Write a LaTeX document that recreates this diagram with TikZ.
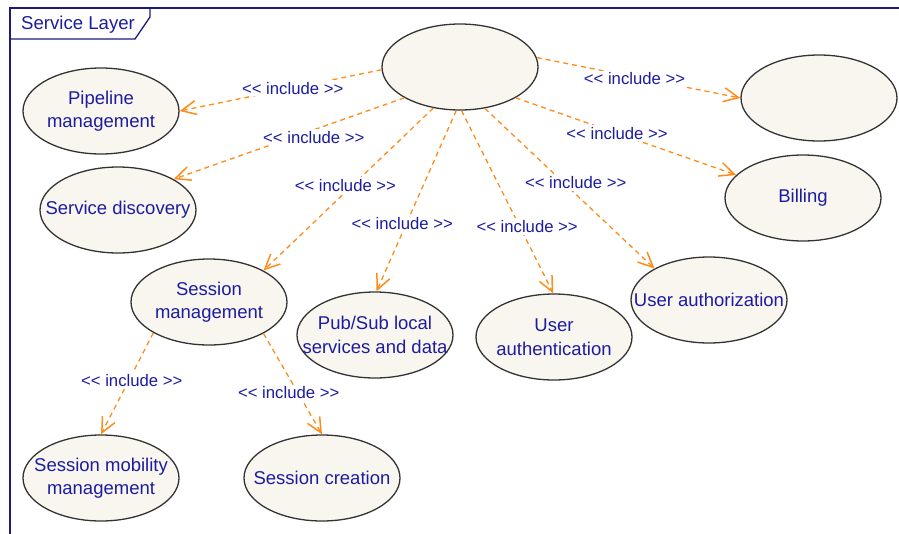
\documentclass[tikz,border=0pt]{standalone}
\usepackage{fontspec}
\setmainfont{Liberation Sans}
\usetikzlibrary{
    arrows.meta,
    shapes.geometric, % for the ellipse nodes
    positioning
}
\definecolor{framenavy}{RGB}{26,26,128}
\definecolor{textblue}{RGB}{28,28,160}
\definecolor{casefill}{RGB}{248,246,238}
\definecolor{caseline}{RGB}{51,51,51}
\definecolor{inclorange}{RGB}{255,140,26}

\begin{document}
\begin{tikzpicture}[x=1pt, y=-1pt,
    usecase/.style={ellipse, draw=caseline, line width=1.3pt, fill=casefill,
        minimum width=156pt, minimum height=86pt, inner xsep=-30pt, inner ysep=-10pt,
        align=center, text=textblue, font=\fontsize{18.5}{23.5}\selectfont},
    include/.style={->, >={Straight Barb[length=15pt, width=14pt, line width=1.5pt]}, inclorange,
        line width=1.3pt, dash pattern=on 5pt off 4pt},
    incl/.style={fill=white, inner sep=2pt, text=textblue, font=\fontsize{16.7}{20}\selectfont}
]
    \def\incl{\textless\kern0pt\textless{} include \textgreater\kern0pt\textgreater}
    \useasboundingbox (0,0) rectangle (899,533);

    % frame with its tab
    \draw[framenavy, line width=1.5pt] (10,8) rectangle (915,550);
    \draw[framenavy, line width=1.3pt] (10,39) -- (135,39) -- (150,17) -- (150,8);
    \node[anchor=base west, inner sep=0pt, text=textblue,
          font=\fontsize{18.6}{22}\selectfont] (title) at (21,29) {Service Layer};

    % use cases
    \node[usecase] (core)      at (460,67)  {};
    \node[usecase] (pipeline)  at (101,111) {Pipeline\\management};
    \node[usecase] (extra)     at (819,98)  {};
    \node[usecase] (discovery) at (118,210) {Service discovery};
    \node[usecase] (billing)   at (803,198) {Billing};
    \node[usecase] (session)   at (209,302) {Session\\management};
    \node[usecase] (pubsub)    at (375,335) {Pub/Sub local\\services and data};
    \node[usecase] (authn)     at (554,337) {User\\authentication};
    \node[usecase] (authz)     at (709,300) {User authorization};
    \node[usecase] (mobility)  at (101,478) {Session mobility\\management};
    \node[usecase] (creation)  at (322,478) {Session creation};

    % include relations
    \draw[include] (core.182) -- node[incl, pos=0.45, xshift=2pt] (i1) {\incl} (pipeline.0);
    \draw[include] (core.209) -- node[incl, pos=0.41, xshift=4pt, yshift=-6pt] (i2) {\incl} (discovery.29);
    \draw[include] (core.237) -- node[incl, pos=0.50, xshift=-3pt, yshift=4pt] (i3) {\incl} (session.30);
    \draw[include] (core.265) -- node[incl, pos=0.64, xshift=-3pt, yshift=3pt] (i4) {\incl} (pubsub.88);
    \draw[include] (core.272) -- node[incl, pos=0.65, xshift=6pt, yshift=3pt] (i5) {\incl} (authn.91);
    \draw[include] (core.301) -- node[incl, pos=0.50, xshift=6pt, yshift=6pt] (i6) {\incl} (authz.150);
    \draw[include] (core.331) -- node[incl, pos=0.46] (i7) {\incl} (billing.161);
    \draw[include] (core.7)   -- node[incl, pos=0.48, yshift=-2pt] (i8) {\incl} (extra.180);
    \draw[include] (session.209) -- node[incl, pos=0.47, xshift=3pt] (i9)  {\incl} (mobility.90);
    \draw[include] (session.330) -- node[incl, pos=0.55, xshift=-7pt, yshift=-4pt] (i10) {\incl} (creation.90);
\end{tikzpicture}
\end{document}
